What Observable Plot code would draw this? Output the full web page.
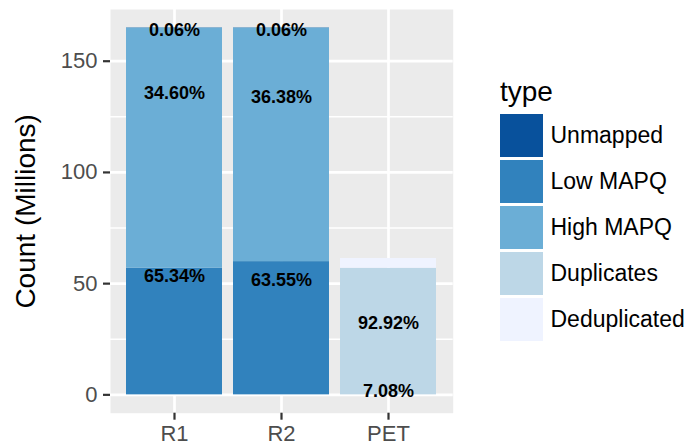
<!DOCTYPE html>
<html>
<head>
<meta charset="utf-8">
<script src="https://cdn.jsdelivr.net/npm/d3@7"></script>
<script src="https://cdn.jsdelivr.net/npm/@observablehq/plot@0.6"></script>
<style>
  html, body { margin: 0; padding: 0; background: #ffffff; }
  #wrap { position: relative; width: 692px; height: 445px; font-family: "Liberation Sans", Arial, Helvetica, sans-serif; }
  #chart { position: absolute; left: 0; top: 0; }
  #legend { position: absolute; left: 0; top: 0; }
  .lg-title { position: absolute; font-size: 28px; color: #000; line-height: 1; }
  .lg-key { position: absolute; width: 43px; height: 43px; }
  .lg-label { position: absolute; font-size: 23px; color: #000; line-height: 1; white-space: nowrap; }
</style>
</head>
<body>
<div id="wrap">
  <div id="chart"></div>
  <div id="legend"></div>
</div>
<script>
// ---- data ----
const samples = ["R1", "R2", "PET"];
const types = ["Unmapped", "Low MAPQ", "High MAPQ", "Duplicates", "Deduplicated"];
const typeColors = ["#08519c", "#3182bd", "#6baed6", "#bdd7e7", "#eff3ff"];
const stackOrder = ["Low MAPQ", "High MAPQ", "Unmapped", "Duplicates", "Deduplicated"];

const unmapped     = [0.1, 0.1, 0];
const lowMapq      = [56.9, 59.9, 0];
const highMapq     = [108.0, 105.0, 0];
const duplicates   = [0, 0, 56.9];
const deduplicated = [0, 0, 4.4];

const labelSample = ["R1", "R1", "R1", "R2", "R2", "R2", "PET", "PET"];
const labelText   = ["0.06%", "34.60%", "65.34%", "0.06%", "36.38%", "63.55%", "92.92%", "7.08%"];
const labelY      = [164.1, 135.4, 53.2, 164.1, 133.9, 51.7, 32.1, 1.5];

const yTicks = [0, 50, 100, 150];
const yMinor = [25, 75, 125];
const yTitle = "Count (Millions)";
const legendTitle = "type";

// ---- build tables ----
const seriesByType = {
  "Unmapped": unmapped, "Low MAPQ": lowMapq, "High MAPQ": highMapq,
  "Duplicates": duplicates, "Deduplicated": deduplicated
};
const rows = [];
samples.forEach((s, i) => {
  stackOrder.forEach(t => {
    const v = seriesByType[t][i];
    if (v > 0) rows.push({sample: s, type: t, value: v});
  });
});
const labels = labelText.map((t, i) => ({sample: labelSample[i], text: t, y: labelY[i]}));

const totals = samples.map((s, i) => stackOrder.reduce((a, t) => a + seriesByType[t][i], 0));
const yMax = Math.max(...totals);
const pad = yMax * 0.05;

const chart = Plot.plot({
  width: 692,
  height: 445,
  marginLeft: 110,
  marginRight: 239.3,
  marginTop: 9,
  marginBottom: 32.3,
  style: {fontFamily: "'Liberation Sans', Arial, Helvetica, sans-serif", background: "transparent"},
  x: {domain: samples, paddingInner: 0.1, paddingOuter: 0.15, label: null},
  y: {domain: [-pad, yMax + pad], label: null},
  color: {domain: types, range: typeColors},
  marks: [
    Plot.frame({fill: "#EBEBEB", stroke: null}),
    Plot.gridY(yMinor, {stroke: "#ffffff", strokeOpacity: 1, strokeWidth: 1.4}),
    Plot.gridY(yTicks, {stroke: "#ffffff", strokeOpacity: 1, strokeWidth: 2.7}),
    Plot.gridX(samples, {stroke: "#ffffff", strokeOpacity: 1, strokeWidth: 2.7}),
    Plot.barY(rows, {x: "sample", y: "value", fill: "type"}),
    Plot.text(labels, {x: "sample", y: "y", text: "text", fontWeight: "bold", fontSize: 18, fill: "#000"}),
    Plot.axisY(yTicks, {tickSize: 7, text: null, stroke: "#333333", strokeWidth: 2.2, label: null}),
    Plot.axisY(yTicks, {tickSize: 0, tickPadding: 13, fill: "#4D4D4D", fontSize: 22, label: null}),
    Plot.axisX(samples, {tickSize: 7, text: null, stroke: "#333333", strokeWidth: 2.2, label: null}),
    Plot.axisX(samples, {tickSize: 0, tickPadding: 12.5, fill: "#4D4D4D", fontSize: 22, label: null}),
    Plot.text([yTitle], {frameAnchor: "left", textAnchor: "middle", dx: -84, rotate: -90, fontSize: 28, fill: "#000"})
  ]
});
document.getElementById("chart").appendChild(chart);

// ---- legend (right side) ----
const legend = document.getElementById("legend");
const lgX = 500, keyTop = 114, step = 46;
const title = document.createElement("div");
title.className = "lg-title";
title.textContent = legendTitle;
title.style.left = lgX + "px";
title.style.top = "78px";
legend.appendChild(title);
types.forEach((t, i) => {
  const k = document.createElement("div");
  k.className = "lg-key";
  k.style.left = lgX + "px";
  k.style.top = (keyTop + i * step) + "px";
  k.style.background = typeColors[i];
  legend.appendChild(k);
  const l = document.createElement("div");
  l.className = "lg-label";
  l.textContent = t;
  l.style.left = (lgX + 50.5) + "px";
  l.style.top = (keyTop + i * step + 21.5 - 11.5) + "px";
  legend.appendChild(l);
});
</script>
</body>
</html>
